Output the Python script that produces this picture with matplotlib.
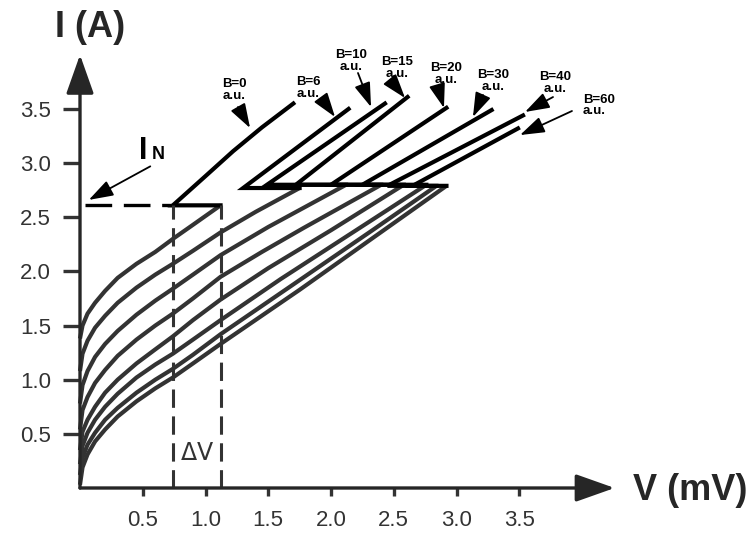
import numpy as np
import matplotlib.pyplot as plt

plt.rcParams['font.family'] = ['Liberation Sans', 'DejaVu Sans']

# field values (a.u.) of the eight curves
fields = ['0', '6', '10', '15', '20', '30', '40', '60']

# superconducting branch (V in mV, I in A)
low_v = [
    [0, 0.02, 0.06, 0.12, 0.2, 0.3, 0.45, 0.6, 0.74, 0.9, 1.12],
    [0, 0.02, 0.06, 0.12, 0.2, 0.3, 0.45, 0.6, 0.74, 0.9, 1.12, 1.4, 1.75],
    [0, 0.02, 0.06, 0.12, 0.2, 0.3, 0.45, 0.6, 0.74, 0.9, 1.12, 1.5, 2.12],
    [0, 0.02, 0.06, 0.12, 0.2, 0.3, 0.45, 0.6, 0.74, 0.9, 1.12, 1.45, 1.78, 2.40],
    [0, 0.02, 0.06, 0.12, 0.2, 0.3, 0.45, 0.6, 0.74, 0.9, 1.12, 1.5, 2.0, 2.58],
    [0, 0.02, 0.06, 0.12, 0.2, 0.3, 0.45, 0.6, 0.74, 0.9, 1.12, 1.6, 2.2, 2.76],
    [0, 0.02, 0.06, 0.12, 0.2, 0.3, 0.45, 0.6, 0.74, 0.9, 1.12, 1.7, 2.33, 2.84],
    [0, 0.02, 0.06, 0.12, 0.2, 0.3, 0.45, 0.6, 0.74, 0.9, 1.12, 1.75, 2.42, 2.92],
]
low_i = [
    [1.38, 1.50, 1.61, 1.71, 1.82, 1.94, 2.07, 2.18, 2.30, 2.43, 2.61],
    [1.08, 1.24, 1.36, 1.48, 1.59, 1.71, 1.85, 1.97, 2.07, 2.19, 2.36, 2.55, 2.77],
    [0.78, 0.95, 1.08, 1.21, 1.33, 1.45, 1.60, 1.73, 1.84, 1.97, 2.15, 2.41, 2.80],
    [0.54, 0.72, 0.84, 0.97, 1.09, 1.22, 1.37, 1.50, 1.61, 1.75, 1.95, 2.18, 2.40, 2.80],
    [0.35, 0.52, 0.63, 0.75, 0.88, 1.00, 1.15, 1.28, 1.40, 1.55, 1.74, 2.03, 2.38, 2.80],
    [0.22, 0.39, 0.51, 0.63, 0.75, 0.87, 1.02, 1.14, 1.24, 1.37, 1.55, 1.93, 2.38, 2.80],
    [0.12, 0.28, 0.40, 0.51, 0.63, 0.74, 0.88, 1.00, 1.10, 1.23, 1.42, 1.88, 2.38, 2.79],
    [0.03, 0.19, 0.31, 0.43, 0.54, 0.66, 0.80, 0.92, 1.02, 1.15, 1.33, 1.83, 2.38, 2.79],
]

# normal branch after the jump
up_v = [
    [0.74, 1.0, 1.22, 1.45, 1.70],
    [1.30, 2.14],
    [1.49, 2.43],
    [1.72, 2.61],
    [2.00, 2.92],
    [2.25, 3.28],
    [2.45, 3.53],
    [2.65, 3.49],
]
up_i = [
    [2.61, 2.88, 3.11, 3.33, 3.55],
    [2.77, 3.50],
    [2.80, 3.55],
    [2.80, 3.61],
    [2.80, 3.51],
    [2.80, 3.49],
    [2.79, 3.44],
    [2.79, 3.32],
]

i_n = 2.61
dv_left, dv_right = 0.74, 1.12

# label position and arrow (tail, head) for each curve
lab_xy = [(1.227, 3.675), (1.817, 3.693), (2.159, 3.943), (2.526, 3.878),
          (2.916, 3.823), (3.291, 3.758), (3.785, 3.740), (4.008, 3.532)]
arr_tail = [(1.259, 3.518), (1.928, 3.592), (2.215, 3.832), (2.486, 3.749),
            (2.853, 3.693), (3.211, 3.629), (3.769, 3.610), (3.920, 3.481)]
arr_head = [(1.355, 3.324), (2.032, 3.426), (2.319, 3.518), (2.590, 3.601),
            (2.900, 3.509), (3.131, 3.426), (3.546, 3.472), (3.506, 3.259)]

fig = plt.figure(figsize=(7.53, 5.37), dpi=100)
ax = fig.add_axes([80 / 753, 49 / 537, 4.3 * 125.5 / 753, 4.1 * 108.3 / 537])
ax.set_xlim(0, 4.3)
ax.set_ylim(0, 4.1)
for s in ax.spines.values():
    s.set_visible(False)

for k in range(len(fields)):
    ax.plot(low_v[k], low_i[k], color='#333333', lw=3.0, solid_capstyle='butt', clip_on=False)
    # jump back to the normal branch + normal branch
    jv = [low_v[k][-1]] + up_v[k]
    ji = [low_i[k][-1]] + up_i[k]
    ax.plot(jv, ji, color='black', lw=3.0, solid_joinstyle='miter', clip_on=False)

# dashed construction lines
ax.plot([0.04, dv_left], [i_n, i_n], color='black', lw=2.4, ls=(0, (8, 3.5)))
ax.plot([dv_left, dv_left], [0, i_n], color='#333333', lw=2.2, ls=(0, (6, 2.8)))
ax.plot([dv_right, dv_right], [0, i_n], color='#333333', lw=2.2, ls=(0, (6, 2.8)))
ax.text((dv_left + dv_right) / 2, 0.32, r'$\Delta$V', fontsize=17, color='#333333',
        ha='center', va='center', family=['DejaVu Sans'])

# axes with arrow heads
axis_arrow = dict(arrowstyle='-|>,head_length=2.4,head_width=0.85', mutation_scale=10,
                  lw=2.4, color='#262626', shrinkA=0, shrinkB=0)
ax.annotate('', xy=(0, 4.0), xytext=(0, 0), arrowprops=axis_arrow, annotation_clip=False)
ax.annotate('', xy=(4.26, 0), xytext=(0, 0), arrowprops=axis_arrow, annotation_clip=False)

ax.set_xticks([0.5, 1.0, 1.5, 2.0, 2.5, 3.0, 3.5])
ax.set_yticks([0.5, 1.0, 1.5, 2.0, 2.5, 3.0, 3.5])
ax.tick_params(axis='y', direction='out', length=12, width=2.4, color='#333333',
               labelsize=16, labelcolor='#333333', pad=9)
ax.tick_params(axis='x', direction='out', length=6, width=2.4, color='#333333',
               labelsize=16, labelcolor='#333333', pad=10)

ax.text(0.08, 4.25, 'I (A)', fontsize=26, fontweight='bold', color='#262626',
        ha='center', va='center')
ax.text(4.86, -0.02, 'V (mV)', fontsize=26, fontweight='bold', color='#262626',
        ha='center', va='center')

# I_N marker
ax.text(0.50, 3.04, 'I', fontsize=22, fontweight='bold', ha='center', va='baseline')
ax.text(0.62, 3.04, 'N', fontsize=13, fontweight='bold', ha='center', va='baseline')
ax.annotate('', xy=(0.07, 2.66), xytext=(0.56, 2.97),
            arrowprops=dict(arrowstyle='-|>,head_length=1.5,head_width=0.5', mutation_scale=10,
                            lw=1.3, color='black', shrinkA=0, shrinkB=0),
            annotation_clip=False)

# B labels
for k in range(len(fields)):
    x, y = lab_xy[k]
    ha = 'left' if k == len(fields) - 1 else 'center'
    ax.text(x, y, 'B=' + fields[k] + '\na.u.', fontsize=9.5, fontweight='bold',
            ha=ha, va='center', multialignment='center' if ha == 'center' else 'left',
            linespacing=0.95)
    ax.annotate('', xy=arr_head[k], xytext=arr_tail[k],
                arrowprops=dict(arrowstyle='-|>,head_length=1.5,head_width=0.5',
                                mutation_scale=10, lw=1.3, color='black',
                                shrinkA=0, shrinkB=0),
                annotation_clip=False)

fig.savefig('out.png', dpi=100)
